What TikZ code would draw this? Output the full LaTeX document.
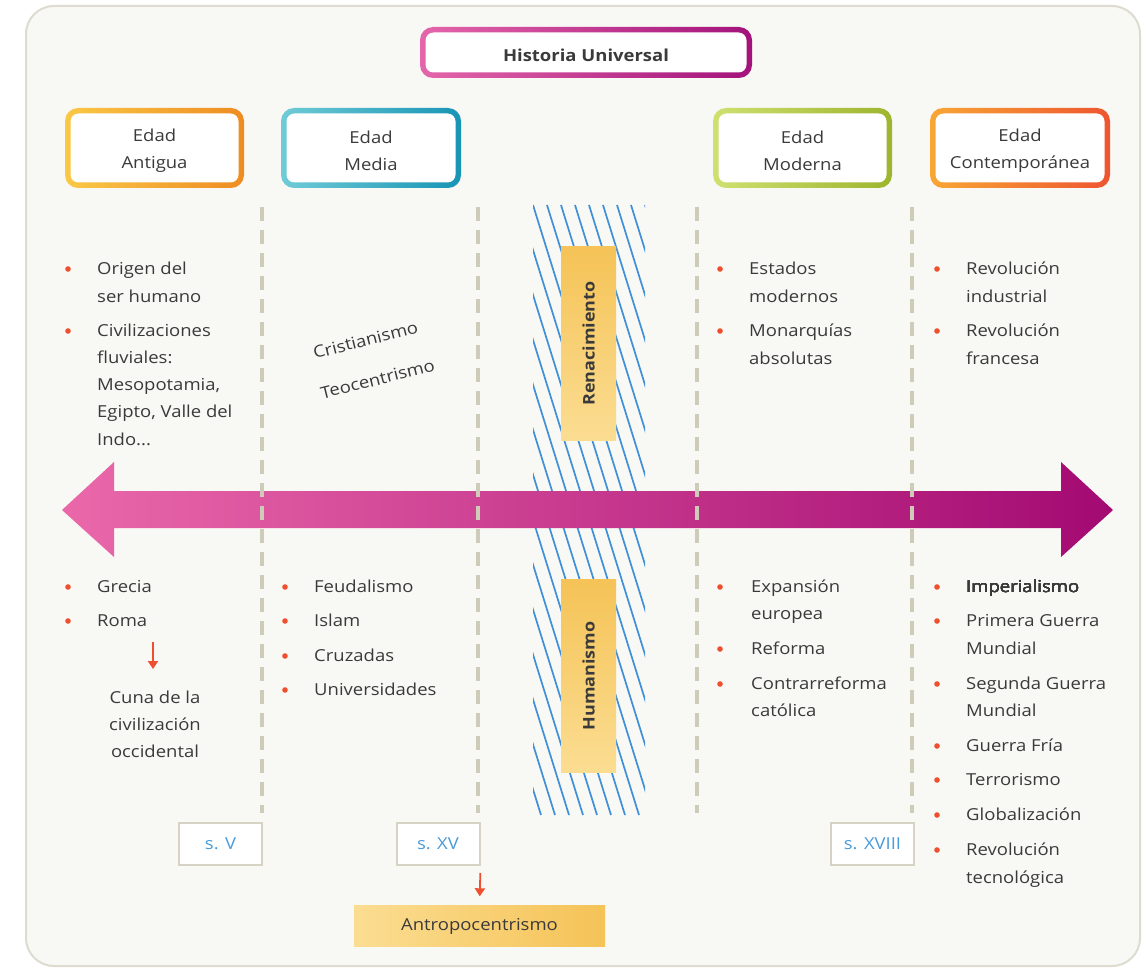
\documentclass[tikz,border=0pt]{standalone}
\usepackage{fontspec}
\setmainfont{Open Sans}[FakeStretch=1.12]
\usetikzlibrary{arrows.meta}
\definecolor{bgc}{HTML}{F8F8F4}
\definecolor{framec}{HTML}{DEDCD0}
\definecolor{textgray}{HTML}{3A3A3A}
\definecolor{bulc}{HTML}{EE4F2E}
\definecolor{dashc}{HTML}{CFCBB9}
\definecolor{hatchc}{HTML}{3F90D8}
\definecolor{yelA}{HTML}{FBDD92}
\definecolor{yelB}{HTML}{F5C357}
\definecolor{bluet}{HTML}{4A9BD9}
\definecolor{sbord}{HTML}{D6D3C5}
\definecolor{arrL}{HTML}{EA68AA}
\definecolor{arrM}{HTML}{D4128F}
\definecolor{arrR}{HTML}{A30A72}
\definecolor{titL}{HTML}{E466AA}
\definecolor{titR}{HTML}{A3137B}
\definecolor{antL}{HTML}{FAC846}
\definecolor{antR}{HTML}{EE8C22}
\definecolor{medL}{HTML}{6FCBD6}
\definecolor{medR}{HTML}{1894B5}
\definecolor{modL}{HTML}{CFE070}
\definecolor{modR}{HTML}{9DB52E}
\definecolor{conL}{HTML}{F8A634}
\definecolor{conR}{HTML}{EE5530}
\newcommand\gradbox[8]{%
  \shade[left color=#6, right color=#7, rounded corners=13] (#2,#3) rectangle (#4,#5);
  \fill[white, rounded corners=8] (#2+5.5,#3+5.5) rectangle (#4-5.5,#5-5.5);
  \node[boxtxt] (#1) at ({(#2+#4)/2},{(#3+#5)/2+3}) {#8};
}
\newcommand\bul[2]{\fill[bulc] (#1,#2) circle (2.8);}
\begin{document}
\begin{tikzpicture}[x=1pt,y=-1pt,
  txt/.style={font=\fontsize{16.5}{19}\selectfont, text=textgray, inner sep=0pt,
    text height=12pt, text depth=4pt, anchor=west},
  ctxt/.style={txt, anchor=center},
  boxtxt/.style={font=\fontsize{16.5}{27}\selectfont, text=textgray, align=center, inner sep=0pt},
  dashline/.style={draw=dashc, line width=3.5pt, dash pattern=on 14pt off 9pt},
  hatchline/.style={draw=hatchc, line width=1.7pt},
  sbox/.style={draw=sbord, line width=2pt, fill=white, text=bluet,
    font=\fontsize{16.5}{19}\selectfont, minimum width=83pt, minimum height=42pt, inner sep=0pt},
  redarrow/.style={draw=bulc, line width=1.8pt, -{Triangle[width=10pt,length=8pt]}},
  yelbox/.style={font=\fontsize{16}{19}\selectfont\bfseries, text=textgray, inner sep=0pt}]
\useasboundingbox (0,0) rectangle (1145,968);
\fill[white] (0,0) rectangle (1145,968);
\draw[draw=framec, fill=bgc, line width=2pt, rounded corners=28] (26,6) rectangle (1140,966);

% title and age boxes
\gradbox{title}{420}{27}{752}{78}{titL}{titR}{\bfseries Historia Universal}
\gradbox{antigua}{65}{108}{244}{188}{antL}{antR}{Edad\\Antigua}
\gradbox{media}{281}{108}{461}{188}{medL}{medR}{Edad\\Media}
\gradbox{moderna}{713}{108}{892}{188}{modL}{modR}{Edad\\Moderna}
\gradbox{contemp}{930}{108}{1110}{188}{conL}{conR}{Edad\\Contemporánea}

% hatched band
\begin{scope}
  \clip (533,205) rectangle (645,815);
  \foreach \i in {-16,...,9} \draw[hatchline] (533+\i*14,205) -- ++(190,610);
\end{scope}
\node[yelbox, rotate=90, minimum width=193pt, minimum height=55pt,
  top color=yelB, bottom color=yelA] (renac) at (588.5,343.5) {Renacimiento};
\node[yelbox, rotate=90, minimum width=193pt, minimum height=55pt,
  top color=yelB, bottom color=yelA] (human) at (588.5,676) {Humanismo};

% main arrow
\shade[left color=arrL, middle color=arrM, right color=arrR]
  (62,510) -- (114,462) -- (114,491) -- (1061,491) -- (1061,462) -- (1113,510)
  -- (1061,557) -- (1061,528) -- (114,528) -- (114,557) -- cycle;

% dashed separators
\foreach \x/\n in {262/a,478/b,697/c,912/d} {
  \coordinate (top\n) at (\x,207);
  \coordinate (bot\n) at (\x,813);
  \draw[dashline] (top\n) -- (bot\n);
}

% Edad Antigua top
\bul{68}{269}\bul{68}{331}
\node[txt] (a1) at (97,270) {Origen del};
\node[txt] (a2) at (97,298) {ser humano};
\node[txt] (a3) at (97,332) {Civilizaciones};
\node[txt] (a4) at (97,359) {fluviales:};
\node[txt] (a5) at (97,386) {Mesopotamia,};
\node[txt] (a6) at (97,413) {Egipto, Valle del};
\node[txt] (a7) at (97,441) {Indo...};

% Edad Media top
\node[ctxt, rotate=14] (m1) at (366,342) {Cristianismo};
\node[ctxt, rotate=14] (m2) at (378,381) {Teocentrismo};

% Edad Moderna top
\bul{720}{269}\bul{720}{331}
\node[txt] (o1) at (749,270) {Estados};
\node[txt] (o2) at (749,298) {modernos};
\node[txt] (o3) at (749,332) {Monarquías};
\node[txt] (o4) at (749,360) {absolutas};

% Edad Contemporanea top
\bul{937}{269}\bul{937}{331}
\node[txt] (c1) at (966,270) {Revolución};
\node[txt] (c2) at (966,298) {industrial};
\node[txt] (c3) at (966,332) {Revolución};
\node[txt] (c4) at (966,360) {francesa};

% Antigua bottom
\bul{68}{587}\bul{68}{621}
\node[txt] (b1) at (97,588) {Grecia};
\node[txt] (b2) at (97,622) {Roma};
\coordinate (romaA) at (153,642);
\coordinate (romaB) at (153,669);
\draw[redarrow] (romaA) -- (romaB);
\node[ctxt] (cuna1) at (155,699) {Cuna de la};
\node[ctxt] (cuna2) at (155,726) {civilización};
\node[ctxt] (cuna3) at (155,753) {occidental};

% Media bottom
\bul{285}{587}\bul{285}{621}\bul{285}{656}\bul{285}{690}
\node[txt] (d1) at (314,588) {Feudalismo};
\node[txt] (d2) at (314,622) {Islam};
\node[txt] (d3) at (314,657) {Cruzadas};
\node[txt] (d4) at (314,691) {Universidades};

% Moderna bottom
\bul{720}{587}\bul{720}{649}\bul{720}{684}
\node[txt] (e1) at (751,588) {Expansión};
\node[txt] (e2) at (751,615) {europea};
\node[txt] (e3) at (751,650) {Reforma};
\node[txt] (e4) at (751,685) {Contrarreforma};
\node[txt] (e5) at (751,712) {católica};

% Contemporanea bottom
\foreach \y in {587,621,684,746,780,815,850} \bul{937}{\y}
\node[txt] (f1) at (966,588) {Imperialismo};
\node[txt] (f2) at (966,622) {Primera Guerra};
\node[txt] (f3) at (966,650) {Mundial};
\node[txt] (f4) at (966,685) {Segunda Guerra};
\node[txt] (f5) at (966,712) {Mundial};
\node[txt] (f6) at (966,747) {Guerra Fría};
\node[txt] (f7) at (966,781) {Terrorismo};
\node[txt] (f8) at (966,816) {Globalización};
\node[txt] (f9) at (966,851) {Revolución};
\node[txt] (f10) at (966,879) {tecnológica};

% century boxes
\node[sbox] (sV) at (220.5,844) {s. V};
\node[sbox] (sXV) at (438,844) {s. XV};
\node[sbox] (sXVIII) at (872.5,844) {s. XVIII};

% Antropocentrismo
\node[font=\fontsize{16.5}{19}\selectfont, text=textgray, inner sep=0pt,
  minimum width=251pt, minimum height=41pt, left color=yelA, right color=yelB]
  (antro) at (479.5,926) {Antropocentrismo};
\draw[redarrow, shorten <=7pt, shorten >=9pt] (sXV.south east) -- (antro.north);
\end{tikzpicture}
\end{document}
